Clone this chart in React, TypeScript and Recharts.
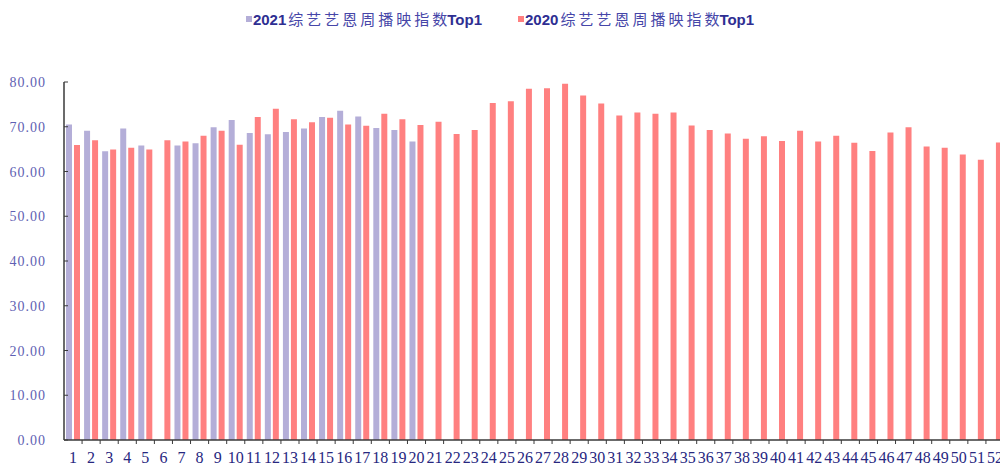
import { Bar, BarChart, Legend, XAxis, YAxis } from "recharts";

const WEEKS = [
  "1", "2", "3", "4", "5", "6", "7", "8", "9", "10",
  "11", "12", "13", "14", "15", "16", "17", "18", "19", "20",
  "21", "22", "23", "24", "25", "26", "27", "28", "29", "30",
  "31", "32", "33", "34", "35", "36", "37", "38", "39", "40",
  "41", "42", "43", "44", "45", "46", "47", "48", "49", "50",
  "51", "52",
];

// 2021 only runs to week 20, week 6 has no value
const TOP1_2021: (number | null)[] = [
  70.5, 69.1, 64.5, 69.6, 65.8, null, 65.8, 66.3, 69.9, 71.5,
  68.6, 68.3, 68.8, 69.6, 72.2, 73.6, 72.3, 69.7, 69.3, 66.7,
  null, null, null, null, null, null, null, null, null, null,
  null, null, null, null, null, null, null, null, null, null,
  null, null, null, null, null, null, null, null, null, null,
  null, null,
];

const TOP1_2020 = [
  65.9, 67.0, 64.9, 65.3, 64.9, 67.0, 66.7, 68.0, 69.1, 66.0,
  72.2, 74.0, 71.7, 71.0, 72.0, 70.5, 70.2, 72.9, 71.7, 70.4,
  71.1, 68.4, 69.3, 75.3, 75.7, 78.5, 78.6, 79.6, 77.0, 75.2,
  72.5, 73.2, 72.9, 73.2, 70.3, 69.3, 68.5, 67.3, 67.9, 66.8,
  69.1, 66.7, 68.0, 66.4, 64.6, 68.7, 69.9, 65.6, 65.3, 63.8,
  62.6, 66.5,
];

const Y_TICKS = [0, 10, 20, 30, 40, 50, 60, 70, 80];

const SERIES = [
  { key: "y2021", year: "2021", label: "综艺艺恩周播映指", last: "数", suffix: "Top1", color: "#B4AED8" },
  { key: "y2020", year: "2020", label: "综艺艺恩周播映指", last: "数", suffix: "Top1", color: "#FF8080" },
];

// the plot runs a little past the right edge of the frame, like the original
const CHART_WIDTH = 1010;
const CHART_HEIGHT = 467;
const Y_AXIS_WIDTH = 64;
const MARGIN = { top: 82, right: 6, bottom: 0, left: 0 };
const BAND = (CHART_WIDTH - Y_AXIS_WIDTH - MARGIN.right) / WEEKS.length;
const AXIS_COLOR = "#3a3a3a";

const rows = WEEKS.map((week, i) => ({
  week,
  y2021: TOP1_2021[i],
  y2020: TOP1_2020[i],
}));

function XTick({ x, y, payload }: any) {
  const edge = x + BAND / 2;
  return (
    <g>
      <line x1={edge} x2={edge} y1={y} y2={y + 4} stroke={AXIS_COLOR} />
      <text
        x={x}
        y={y + 23}
        textAnchor="middle"
        fontFamily="'Liberation Serif', serif"
        fontSize={16}
        fill="#27277F"
      >
        {payload.value}
      </text>
    </g>
  );
}

function YTick({ x, y, payload }: any) {
  return (
    <g>
      <line x1={x} x2={x + 4} y1={y} y2={y} stroke={AXIS_COLOR} />
      <text
        x={x - 18}
        y={y}
        dy={5}
        textAnchor="end"
        fontFamily="'Liberation Serif', serif"
        fontSize={14}
        letterSpacing={1}
        fill="#5F5FB3"
      >
        {Number(payload.value).toFixed(2)}
      </text>
    </g>
  );
}

function LegendContent() {
  return (
    <div style={{ display: "flex", justifyContent: "center", gap: 36 }}>
      {SERIES.map((s) => (
        <div key={s.key} style={{ display: "flex", alignItems: "center", gap: 1 }}>
          <span style={{ display: "inline-block", width: 6, height: 6, background: s.color }} />
          <span
            style={{
              fontFamily: "'Liberation Sans', Arial, sans-serif",
              fontSize: 15,
              fontWeight: "bold",
              color: "#2E2E92",
              whiteSpace: "nowrap",
            }}
          >
            {s.year}
            <span
              style={{
                fontFamily: "'Noto Sans CJK SC', sans-serif",
                fontWeight: "normal",
                color: "#4646A8",
                marginLeft: 2,
              }}
            >
              <span style={{ letterSpacing: 3 }}>{s.label}</span>
              {s.last}
            </span>
            {s.suffix}
          </span>
        </div>
      ))}
    </div>
  );
}

export default function App() {
  return (
    <div
      style={{
        position: "absolute",
        left: 0,
        top: 0,
        width: 1000,
        height: 467,
        overflow: "hidden",
        background: "#fff",
      }}
    >
      <BarChart
        width={CHART_WIDTH}
        height={CHART_HEIGHT}
        data={rows}
        margin={MARGIN}
        barSize={6}
        barGap={2}
      >
        <Legend
          verticalAlign="middle"
          content={() => <LegendContent />}
          wrapperStyle={{ top: 8, left: 0, width: 1000, height: 24 }}
        />
        <XAxis
          dataKey="week"
          interval={0}
          height={27}
          tickSize={0}
          tickMargin={0}
          tickLine={false}
          axisLine={{ stroke: AXIS_COLOR, strokeWidth: 1.5 }}
          tick={XTick}
        />
        <YAxis
          width={Y_AXIS_WIDTH}
          domain={[0, 80]}
          ticks={Y_TICKS}
          tickSize={0}
          tickMargin={0}
          tickLine={false}
          axisLine={{ stroke: AXIS_COLOR, strokeWidth: 1.5 }}
          tick={YTick}
        />
        {SERIES.map((s) => (
          <Bar
            key={s.key}
            dataKey={s.key}
            name={s.year + s.label + s.last + s.suffix}
            fill={s.color}
            isAnimationActive={false}
          />
        ))}
      </BarChart>
    </div>
  );
}
